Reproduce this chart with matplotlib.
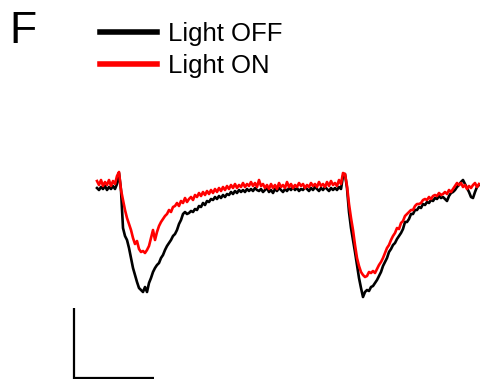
import matplotlib
matplotlib.use("Agg")
import matplotlib.pyplot as plt
import numpy as np

plt.rcParams["font.family"] = ["Liberation Sans", "DejaVu Sans"]

# sampling: one point every 5 ms
DT = 5.0
# whole-cell current (pA), Light OFF
off_pA = [-1, -3, 0, -2, 1, -3, 0, -2, 1, -2, 3, 14, -3, -41, -49, -53, -61, -71, -81, -88,
          -95, -101, -103, -105, -100, -105, -96, -91, -85, -81, -78, -76, -71, -68, -63, -59,
          -56, -53, -49, -47, -43, -37, -33, -27, -25, -27, -26, -24, -25, -22, -23, -19, -20,
          -16, -18, -14, -15, -12, -13, -10, -12, -9, -11, -8, -10, -7, -8, -5, -7, -4, -6, -3,
          -5, -3, -5, -2, -4, -2, -4, -1, -3,
          -4, -2, -5, -3, -1, -5, -3, -6, -2, -4, -1, -3, -5, -2, -4, -1, -3, 0, -3, -1, -4, -2,
          -3, 0, -2, -4, -1, -3, 0, -2, -4, -1, -3, 0, -2, -4, -1, -3, -1, -3, 0, -2,
          11, 13, -1, -25, -41, -53, -65, -78, -91, -101, -110, -105, -103, -104, -100, -99, -96,
          -93, -89, -85, -79, -75, -71, -65, -62, -58, -56, -52, -49, -46, -42, -35, -35, -32,
          -27, -27, -23, -23, -20, -21, -17, -18, -15, -16, -13, -14, -11, -12, -9, -11, -10,
          -12, -14, -9, -6, -5, -3, 0, 2, 5, 7, 3, -1, -5, -10, -11, -5, 0, 2]
# whole-cell current (pA), Light ON
on_pA = [6, 2, 7, 1, 5, 2, 7, 1, 6, 3, 11, 15, -3, -13, -23, -31, -37, -43, -51, -57, -54, -62,
         -65, -64, -66, -63, -59, -51, -43, -53, -45, -39, -35, -32, -29, -27, -23, -25, -20,
         -19, -16, -19, -14, -16, -11, -15, -12, -10, -13, -8, -10, -6, -9, -5, -8, -4, -7, -3,
         -6, -2, -5, -1, -4, 0, -3, 1, -2, 2, -1, 3, -1, 2, 0, 4, 0, 3, 1, 5, 1, 4, 0, 7, 1, 3,
         -1, 2, -2, 3, -1, 2, -2, 4, 0, 2, -1, 5, 0, 3, -1, 2, 0, 4, 1, 3, -1, 2, 0, 4, 1, 3, 0,
         5, 1, 3, 0, 5, 1, 6, 2, 4, 1, 7, 3, 14, 13, 1, -17, -31, -43, -58, -71, -79, -85, -88,
         -90, -89, -85, -86, -84, -86, -82, -78, -75, -71, -66, -61, -58, -53, -49, -46, -41,
         -42, -36, -34, -29, -27, -25, -23, -23, -19, -17, -17, -16, -13, -12, -13, -10, -12,
         -9, -8, -9, -6, -8, -7, -5, -7, -3, -5, -2, 1, 4, 2, 4, 0, 2, -2, 1, -1, 2, 4, 0, 3]
labels = ["Light OFF", "Light ON"]
colors = ["#000000", "#ff0000"]

# scale bar: 200 ms, 70 pA
bar_ms, bar_pA = 200, 70

t = np.arange(len(off_pA)) * DT
t_on = np.arange(len(on_pA)) * DT

fig = plt.figure(figsize=(4.81, 3.79), dpi=100)
ax = fig.add_axes([0, 0, 1, 1])
ax.axis("off")
ax.set_xlim(-242.5, 960)
ax.set_ylim(-192, 187)

ax.plot(t, off_pA, color=colors[0], lw=1.9, label=labels[0])
ax.plot(t_on, on_pA, color=colors[1], lw=1.9, label=labels[1])

# scale bar (bottom left)
x0, y0 = -57.5, -191
ax.plot([x0, x0, x0 + bar_ms], [y0 + bar_pA, y0, y0], color="black", lw=1.6,
        solid_capstyle="butt", solid_joinstyle="miter")

leg = ax.legend(loc="upper left", bbox_to_anchor=(0.187, 0.968), frameon=False,
                fontsize=18.5, handlelength=2.2, handletextpad=0.45, labelspacing=0.28,
                borderaxespad=0)
for h in leg.get_lines():
    h.set_linewidth(4)

fig.text(0.02, 0.97, "F", fontsize=32, ha="left", va="top")

fig.savefig("out.png", dpi=100)
